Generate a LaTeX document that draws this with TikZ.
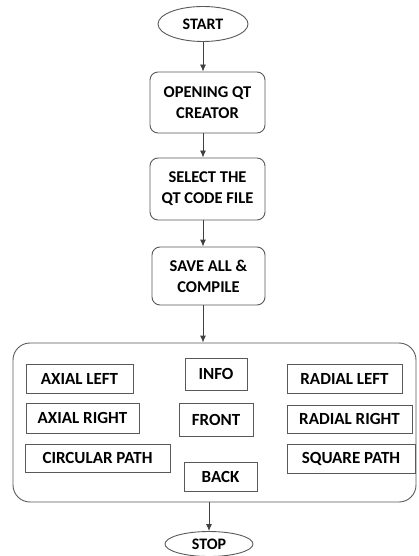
\documentclass[tikz,border=0pt]{standalone}
\usepackage{fontspec}
\setmainfont{Carlito}
\usetikzlibrary{shapes.geometric,arrows.meta}

\begin{document}
\begin{tikzpicture}[x=1pt, y=-1pt,
		% Stile per i terminali (START / STOP)
		term style/.style={ellipse, draw=black!65, line width=0.9pt, inner sep=0pt, font=\bfseries\fontsize{16}{19}\selectfont},
		% Stile per i passi del flusso, rettangoli arrotondati
		step style/.style={draw=black!65, line width=0.9pt, rounded corners=8pt, align=center, inner sep=0pt, font=\bfseries\fontsize{16.5}{21}\selectfont},
		% Stile per i pulsanti dentro il pannello
		btn style/.style={draw=black!65, line width=0.9pt, inner sep=0pt, font=\bfseries\fontsize{17}{19}\selectfont},
		% Stile per le frecce
		edge style/.style={line width=0.9pt, color=black!75, -{Latex[length=7pt,width=6pt]}}
	]
	\useasboundingbox (0,0) rectangle (418,556);

	% =================================
	% INIZIO
	% =================================
	\node[term style, minimum width=90pt, minimum height=35pt] (start) at (203,24) {START};

	% =================================
	% PASSI DEL FLUSSO
	% =================================
	\node[step style, minimum width=115pt, minimum height=61pt] (open) at (207.5,102.5) {OPENING QT\\CREATOR};
	\node[step style, minimum width=115pt, minimum height=62pt] (select) at (207.5,189) {SELECT THE\\QT CODE FILE};
	\node[step style, minimum width=113pt, minimum height=58pt] (save) at (208.5,276) {SAVE ALL \&\\COMPILE};

	% =================================
	% PANNELLO (Interfaccia)
	% =================================
	\node[draw=black!65, line width=0.9pt, rounded corners=17pt, minimum width=403pt, minimum height=159pt] (panel) at (214.5,422.5) {};

	% Colonna sinistra
	\node[btn style, minimum width=107pt, minimum height=29pt] (axleft) at (79.5,378.5) {AXIAL LEFT};
	\node[btn style, minimum width=113pt, minimum height=30pt] (axright) at (82.5,418) {AXIAL RIGHT};
	\node[btn style, minimum width=145pt, minimum height=28pt] (circ) at (97.5,458) {CIRCULAR PATH};
	% Colonna centrale
	\node[btn style, minimum width=62pt, minimum height=32pt] (info) at (216,374) {INFO};
	\node[btn style, minimum width=74pt, minimum height=33pt] (front) at (216,419.5) {FRONT};
	\node[btn style, minimum width=73pt, minimum height=29pt] (back) at (220.5,476.5) {BACK};
	% Colonna destra
	\node[btn style, minimum width=115pt, minimum height=29pt] (radleft) at (344.5,378.5) {RADIAL LEFT};
	\node[btn style, minimum width=125pt, minimum height=28pt] (radright) at (349.5,419) {RADIAL RIGHT};
	\node[btn style, minimum width=128pt, minimum height=29pt] (square) at (351,458.5) {SQUARE PATH};

	% =================================
	% FINE
	% =================================
	\node[term style, minimum width=88pt, minimum height=25pt] (stop) at (209,544) {STOP};

	% =================================
	% CONNESSIONI (Frecce)
	% =================================
	\draw[edge style] (start) -- (start |- open.north);
	\draw[edge style] (open.south -| start) -- (start |- select.north);
	\draw[edge style] (select.south -| start) -- (start |- save.north);
	\draw[edge style] (save.south -| start) -- (panel.north -| start);
	\draw[edge style] (panel.south -| stop) -- (stop);

\end{tikzpicture}
\end{document}
